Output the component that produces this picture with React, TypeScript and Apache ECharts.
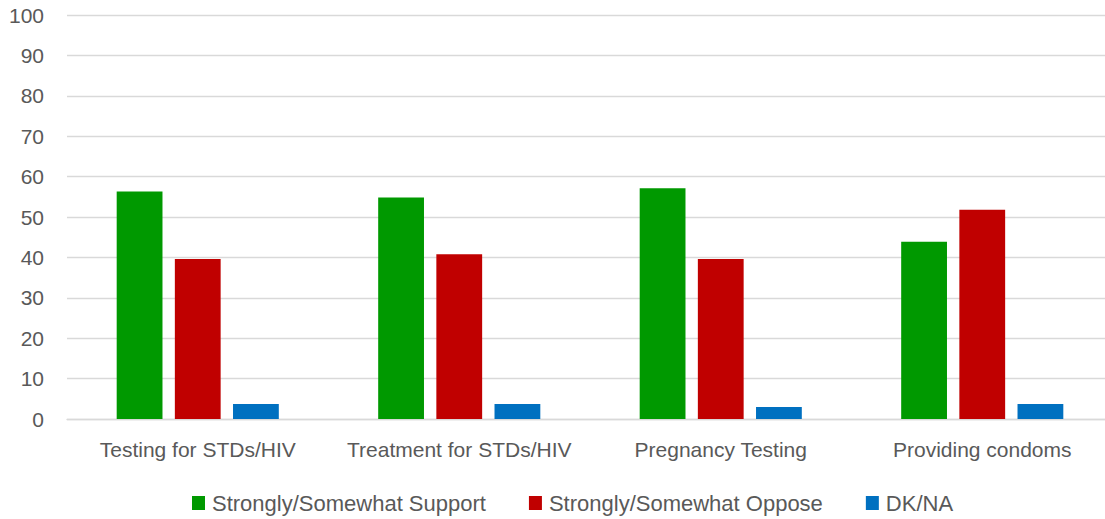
import React, { useEffect, useRef } from "react";
import * as echarts from "echarts";

const categories = ["Testing for STDs/HIV", "Treatment for STDs/HIV", "Pregnancy Testing", "Providing condoms"];
const supportValues = [56.3, 54.8, 57.1, 43.9];
const opposeValues = [39.6, 40.8, 39.6, 51.8];
const dkValues = [3.7, 3.7, 3.0, 3.7];
const seriesNames = ["Strongly/Somewhat Support", "Strongly/Somewhat Oppose", "DK/NA"];
const FONT = "Liberation Sans, Arial, sans-serif";

export default function App() {
  const ref = useRef<HTMLDivElement>(null);
  useEffect(() => {
    if (!ref.current) return;
    const chart = echarts.init(ref.current, undefined, { renderer: "svg" });
    chart.setOption({
      animation: false,
      textStyle: { fontFamily: FONT },
      grid: { left: 67, right: 0, top: 15, bottom: 100, containLabel: false },
      legend: {
        bottom: 0,
        left: 187,
        itemWidth: 13,
        itemHeight: 14,
        itemGap: 43,
        icon: "rect",
        textStyle: { color: "#595959", fontSize: 22, fontFamily: FONT, padding: [0, 0, 0, 2] },
        data: seriesNames,
      },
      xAxis: {
        type: "category",
        data: categories,
        axisLine: { show: true, lineStyle: { color: "#d9d9d9", width: 1.3 } },
        axisTick: { show: false },
        axisLabel: { color: "#595959", fontSize: 21, margin: 20, fontFamily: FONT, interval: 0 },
      },
      yAxis: {
        type: "value",
        min: 0,
        max: 100,
        interval: 10,
        axisLine: { show: false },
        axisTick: { show: false },
        axisLabel: { color: "#595959", fontSize: 21, margin: 23, fontFamily: FONT },
        splitLine: { lineStyle: { color: "#d9d9d9", width: 1.3 } },
      },
      series: [
        { name: seriesNames[0], type: "bar", data: supportValues, itemStyle: { color: "#009900" }, barGap: "27%", barCategoryGap: "38%" },
        { name: seriesNames[1], type: "bar", data: opposeValues, itemStyle: { color: "#c00000" } },
        { name: seriesNames[2], type: "bar", data: dkValues, itemStyle: { color: "#0070c0" } },
      ],
    });
    return () => chart.dispose();
  }, []);
  return (
    <div style={{ width: 1105, height: 519, position: "absolute", left: 0, top: 0, overflow: "hidden" }}>
      <div ref={ref} style={{ width: 1113, height: 519 }} />
    </div>
  );
}
